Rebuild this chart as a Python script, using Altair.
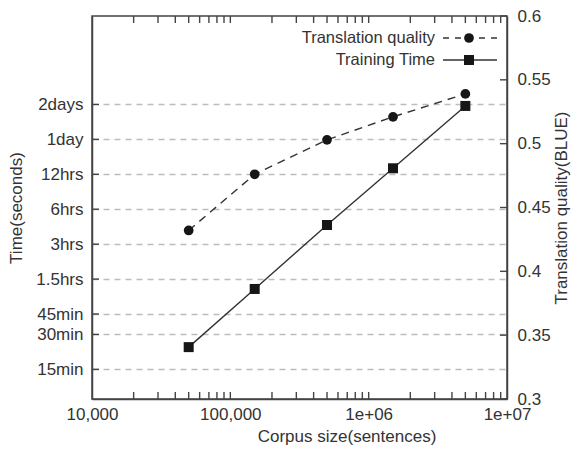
import altair as alt
import pandas as pd

# ---- data ----
corpus_sizes = [50000, 150000, 500000, 1500000, 5000000]
training_time_sec = [1400, 4440, 15800, 48700, 167800]
bleu_scores = [0.432, 0.476, 0.503, 0.521, 0.539]
series_names = ["Translation quality", "Training Time"]

x_tick_values = [10000, 100000, 1000000, 10000000]
x_tick_labels = ["10,000", "100,000", "1e+06", "1e+07"]
x_minor_ticks = [20000, 30000, 40000, 50000, 60000, 70000, 80000, 90000, 100000,
                 200000, 300000, 400000, 500000, 600000, 700000, 800000, 900000, 1000000,
                 2000000, 3000000, 4000000, 5000000, 6000000, 7000000, 8000000, 9000000]
time_tick_values = [900, 1800, 2700, 5400, 10800, 21600, 43200, 86400, 172800]
time_tick_labels = ["15min", "30min", "45min", "1.5hrs", "3hrs", "6hrs", "12hrs", "1day", "2days"]
bleu_tick_values = [0.3, 0.35, 0.4, 0.45, 0.5, 0.55, 0.6]

FONT = "Liberation Sans"
TXT = "#333333"
LINE = "#333333"
MARK = "#161616"

W, H = 415, 383


def label_expr(values, labels):
    return " : ".join(f"datum.value == {v} ? '{l}'" for v, l in zip(values, labels)) + " : ''"


xscale = alt.Scale(type="log", domain=[10000, 10000000])
tscale = alt.Scale(type="log", domain=[500, 1000000])
bscale = alt.Scale(domain=[0.3, 0.6], zero=False)

xaxis = alt.Axis(values=x_tick_values, labelExpr=label_expr(x_tick_values, x_tick_labels),
                 title="Corpus size(sentences)", ticks=False, grid=False, labelPadding=7,
                 labelFlush=False, titleX=254.5, titlePadding=6)
left_axis = alt.Axis(orient="left", values=time_tick_values,
                     labelExpr=label_expr(time_tick_values, time_tick_labels),
                     title="Time(seconds)", ticks=False, grid=True, gridColor="#bdbdbd",
                     gridDash=[6, 5], gridWidth=1.3, labelPadding=9, titlePadding=10)
right_axis = alt.Axis(orient="right", values=bleu_tick_values, format=".2~f",
                      title="Translation quality(BLUE)", ticks=False, grid=False,
                      labelPadding=10, titlePadding=3, labelFlush=False,
                      titleAngle=270, titleBaseline="top")

time_df = pd.DataFrame({"corpus": corpus_sizes, "time": training_time_sec})
bleu_df = pd.DataFrame({"corpus": corpus_sizes, "bleu": bleu_scores})

X = alt.X("corpus:Q", scale=xscale, axis=xaxis)

time_line = alt.Chart(time_df).mark_line(color=LINE, strokeWidth=1.4).encode(
    x=X, y=alt.Y("time:Q", scale=tscale, axis=left_axis))
time_pts = alt.Chart(time_df).mark_point(shape="square", filled=True, size=100,
                                         color=MARK, opacity=1).encode(
    x=X, y=alt.Y("time:Q", scale=tscale, axis=left_axis))
left_ticks = alt.Chart(pd.DataFrame({"time": time_tick_values})).mark_rule(
    color="#444", strokeWidth=1.4).encode(
    y=alt.Y("time:Q", scale=tscale, axis=left_axis), x=alt.value(0), x2=alt.value(7))
minor_df = pd.DataFrame({"corpus": x_minor_ticks})
top_ticks = alt.Chart(minor_df).mark_rule(color="#444", strokeWidth=1.4).encode(
    x=X, y=alt.value(0), y2=alt.value(7))
bottom_ticks = alt.Chart(minor_df).mark_rule(color="#444", strokeWidth=1.4).encode(
    x=X, y=alt.value(H - 7), y2=alt.value(H))

time_group = alt.layer(time_line, time_pts, left_ticks, top_ticks, bottom_ticks)

bleu_line = alt.Chart(bleu_df).mark_line(color=LINE, strokeWidth=1.4,
                                         strokeDash=[8, 6]).encode(
    x=X, y=alt.Y("bleu:Q", scale=bscale, axis=right_axis))
bleu_pts = alt.Chart(bleu_df).mark_point(shape="circle", filled=True, size=95,
                                         color=MARK, opacity=1).encode(
    x=X, y=alt.Y("bleu:Q", scale=bscale, axis=right_axis))
right_ticks = alt.Chart(pd.DataFrame({"bleu": bleu_tick_values})).mark_rule(
    color="#444", strokeWidth=1.4).encode(
    y=alt.Y("bleu:Q", scale=bscale, axis=right_axis), x=alt.value(W - 7), x2=alt.value(W))

# legend (top right, inside the plot)
leg0 = pd.DataFrame({"name": [series_names[0]]})
leg1 = pd.DataFrame({"name": [series_names[1]]})
leg_text0 = alt.Chart(leg0).mark_text(align="right", baseline="middle", font=FONT,
                                      fontSize=16.5, color=TXT).encode(
    text="name:N", x=alt.value(343), y=alt.value(22))
leg_line0 = alt.Chart(leg0).mark_rule(color=LINE, strokeWidth=1.4, strokeDash=[6, 6]).encode(
    x=alt.value(351), x2=alt.value(405), y=alt.value(22))
leg_pt0 = alt.Chart(leg0).mark_point(shape="circle", filled=True, size=95, color=MARK,
                                     opacity=1).encode(x=alt.value(377), y=alt.value(22))
leg_text1 = alt.Chart(leg1).mark_text(align="right", baseline="middle", font=FONT,
                                      fontSize=16.5, color=TXT).encode(
    text="name:N", x=alt.value(343), y=alt.value(44))
leg_line1 = alt.Chart(leg1).mark_rule(color=LINE, strokeWidth=1.4).encode(
    x=alt.value(351), x2=alt.value(405), y=alt.value(44))
leg_pt1 = alt.Chart(leg1).mark_point(shape="square", filled=True, size=100, color=MARK,
                                     opacity=1).encode(x=alt.value(377), y=alt.value(44))

bleu_group = alt.layer(bleu_line, bleu_pts, right_ticks,
                       leg_line0, leg_pt0, leg_text0, leg_line1, leg_pt1, leg_text1)

chart = alt.layer(time_group, bleu_group).resolve_scale(y="independent").properties(
    width=W, height=H,
    padding={"left": 84, "top": 8, "right": 65, "bottom": 47},
    autosize=alt.AutoSizeParams(type="none"),
).configure_view(stroke="#444", strokeWidth=1.5).configure_axis(
    labelFont=FONT, titleFont=FONT, labelFontSize=17, titleFontSize=17,
    labelColor=TXT, titleColor=TXT, titleFontWeight="normal",
    domainColor="#444", domainWidth=1.5,
)

chart.save("out.html", embed_options={"renderer": "svg", "actions": False})
